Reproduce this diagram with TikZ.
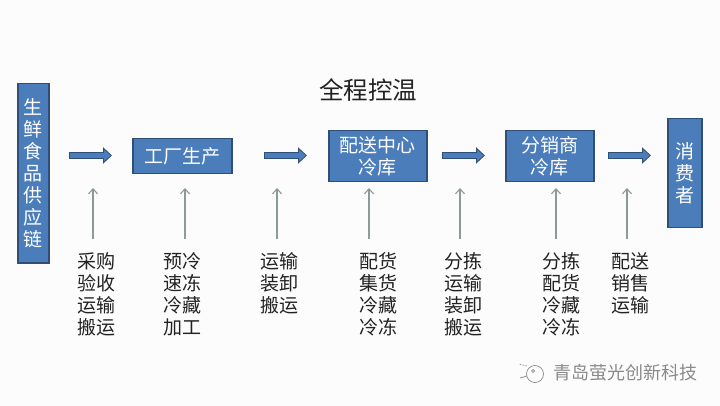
\documentclass[tikz,border=0pt]{standalone}
\usepackage{fontspec}
\setmainfont{Noto Sans CJK SC}
\usetikzlibrary{arrows.meta}
\definecolor{boxfill}{HTML}{4A7DBA}
\definecolor{boxline}{HTML}{2F4F78}
\definecolor{feedgray}{HTML}{8C9A9A}
\definecolor{ink}{HTML}{222222}
\definecolor{brandgray}{HTML}{8A8A8A}
\tikzset{
  x=1pt,y=-1pt,
  stage/.style={draw=boxline,line width=1.5pt,fill=boxfill,text=white,font=\fontsize{19}{22}\selectfont,align=center,inner sep=0pt,anchor=north west},
  flowout/.style={draw=boxline,line width=7.5pt,-{Triangle[length=9pt,width=16pt]}},
  flowin/.style={draw=boxfill,line width=4.6pt,-{Triangle[length=6.6pt,width=11pt]},shorten >=1.3pt,shorten <=1.3pt},
  feed/.style={draw=feedgray,line width=1.1pt,-{Straight Barb[length=5pt,width=9pt]}},
  step list/.style={text=ink,font=\fontsize{19}{22}\selectfont,align=center,inner sep=0pt,anchor=north},
  brandline/.style={draw=brandgray,line width=0.7pt},
}
\begin{document}
\begin{tikzpicture}
\useasboundingbox (0,0) rectangle (720,406);
\fill[white!99!black] (0,0) rectangle (720,406);

\node[text=ink,font=\fontsize{24.5}{28}\selectfont,inner sep=0pt] (title) at (368,90) {全程控温};

\node[stage,minimum width=31pt,minimum height=179pt] (chain) at (17,83) {生\\鲜\\食\\品\\供\\应\\链};
\node[stage,minimum width=99pt,minimum height=35pt] (factory) at (132,138) {工厂生产};
\node[stage,minimum width=98pt,minimum height=51pt] (center) at (328,130) {配送中心\\冷库};
\node[stage,minimum width=88pt,minimum height=51pt] (dist) at (505,130) {分销商\\冷库};
\node[stage,minimum width=34pt,minimum height=109pt] (consumer) at (667,118) {消\\费\\者};

\foreach \n/\a/\b in {1/69/112,2/264/307,3/442/485,4/608/651}{
  \coordinate (flow\n s) at (\a,155.5);
  \coordinate (flow\n e) at (\b,155.5);
  \draw[flowout] (flow\n s) -- (flow\n e);
  \draw[flowin] (flow\n s) -- (flow\n e);
}

\node[step list] (l1) at (96,252) {采购\\验收\\运输\\搬运};
\node[step list] (l2) at (182.5,252) {预冷\\速冻\\冷藏\\加工};
\node[step list] (l3) at (279.5,252) {运输\\装卸\\搬运};
\node[step list] (l4) at (378,252) {配货\\集货\\冷藏\\冷冻};
\node[step list] (l5) at (463.5,252) {分拣\\运输\\装卸\\搬运};
\node[step list] (l6) at (561,252) {分拣\\配货\\冷藏\\冷冻};
\node[step list] (l7) at (630.5,252) {配送\\销售\\运输};

\foreach \n/\a in {1/93,2/185,3/277,4/369,5/460,6/556,7/627}{
  \coordinate (feed\n s) at (\a,239);
  \coordinate (feed\n e) at (\a,188);
  \draw[feed] (feed\n s) -- (feed\n e);
}

\node[text=brandgray,font=\fontsize{18}{20}\selectfont,inner sep=0pt,anchor=west] (brand) at (553,373) {青岛萤光创新科技};
\draw[brandline] (535,374) circle (8.5);
\draw[brandline] (533,371) circle (1.5);
\draw[brandline,dash pattern=on 1.5pt off 1.5pt] (527,366) -- (519,364);
\draw[brandline] (520,378) -- (527,376);
\end{tikzpicture}
\end{document}
